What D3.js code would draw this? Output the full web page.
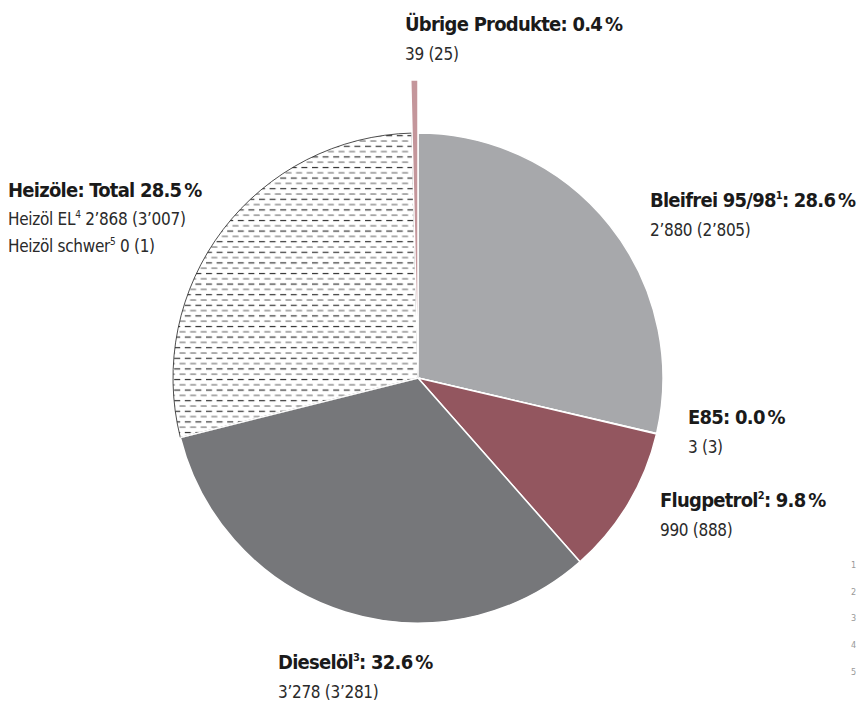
<!DOCTYPE html>
<html>
<head>
<meta charset="utf-8">
<script src="https://cdn.jsdelivr.net/npm/d3@7/dist/d3.min.js"></script>
<style>
  html, body { margin: 0; padding: 0; background: #fff; }
  svg { display: block; }
  text { font-family: "DejaVu Sans Condensed", "DejaVu Sans", sans-serif; font-stretch: condensed; }
  .title { font-weight: bold; font-size: 20px; fill: #1a1a1a; letter-spacing: -0.75px; }
  .val { font-size: 17px; fill: #2a2a2a; letter-spacing: -0.3px; }
  .note { font-size: 9px; fill: #999; }
</style>
</head>
<body>
<svg id="chart" width="858" height="704"></svg>
<script>
// Sales by product (thousand tonnes), current year and previous year in brackets
const categories = ["Bleifrei 95/98", "E85", "Flugpetrol", "Dieselöl", "Heizöle", "Übrige Produkte"];
const footnoteMarks = ["1", "", "2", "3", "", ""];
const values = [2880, 3, 990, 3278, 2868, 39];
const previous = [2805, 3, 888, 3281, 3007, 25];
// Heating oil breakdown
const heatingParts = ["Heizöl EL", "Heizöl schwer"];
const heatingMarks = ["4", "5"];
const heatingValues = [2868, 0];
const heatingPrevious = [3007, 1];
const footnoteNumbers = ["1", "2", "3", "4", "5"];

const colors = ["#a7a8ab", "#b9a0a3", "#93565f", "#76777a", "url(#dashes)", "#c4969b"];

const svg = d3.select("#chart");
const cx = 418, cy = 378, r = 245, rOut = 298;

// Dash pattern for the heating oil slice
const defs = svg.append("defs");
const pat = defs.append("pattern")
  .attr("id", "dashes")
  .attr("patternUnits", "userSpaceOnUse")
  .attr("width", 10.6).attr("height", 10.6);
pat.append("rect").attr("width", 10.6).attr("height", 10.6).attr("fill", "#fff");
pat.append("line").attr("x1", 0).attr("x2", 6).attr("y1", 1.5).attr("y2", 1.5)
  .attr("stroke", "#333").attr("stroke-width", 1.2);
pat.append("line").attr("x1", 5.3).attr("x2", 10.6).attr("y1", 6.8).attr("y2", 6.8)
  .attr("stroke", "#777").attr("stroke-width", 1.2);
pat.append("line").attr("x1", 0).attr("x2", 0.7).attr("y1", 6.8).attr("y2", 6.8)
  .attr("stroke", "#777").attr("stroke-width", 1.2);

const total = d3.sum(values);
const pie = d3.pie().sort(null).value(d => d.v).startAngle(0).endAngle(2 * Math.PI);
const data = categories.map((c, i) => ({ c, v: values[i], i }));
const arcs = pie(data);

const g = svg.append("g").attr("transform", `translate(${cx},${cy})`);
const arcFor = d => d3.arc().innerRadius(0).outerRadius(d.data.i === 5 ? rOut : r)(d);

g.selectAll("path.slice")
  .data(arcs)
  .join("path")
  .attr("class", "slice")
  .attr("d", arcFor)
  .attr("fill", d => colors[d.data.i])
  .attr("stroke", d => d.data.i === 4 ? "#222" : "#fff")
  .attr("stroke-width", d => d.data.i === 4 ? 0.8 : 1.5)
  .attr("stroke-linejoin", "round");

// white separator drawn over the heating-oil outline
g.selectAll("path.sep")
  .data(arcs.filter(d => d.data.i === 4))
  .join("path")
  .attr("d", d => {
    const a = d.startAngle;
    return `M0,0L${r * Math.sin(a)},${-r * Math.cos(a)}`;
  })
  .attr("stroke", "#fff").attr("stroke-width", 1.5);

const fmt = n => d3.format(",")(n).replace(/,/g, "\u2019");
const pct = v => (v / total * 100).toFixed(1);

// Labels: [index, x, title baseline]
const labelPos = [
  [0, 650, 207],
  [1, 688, 424],
  [2, 660, 507],
  [3, 278, 669],
  [5, 405, 31]
];

labelPos.forEach(([i, x, y]) => {
  const t = svg.append("text").attr("class", "title").attr("x", x).attr("y", y);
  t.append("tspan").text(categories[i]);
  if (footnoteMarks[i]) {
    t.append("tspan").attr("font-size", 11).attr("dy", -8).text(footnoteMarks[i]);
    t.append("tspan").attr("dy", 8).text(": " + pct(values[i]) + "\u2009%");
  } else {
    t.append("tspan").text(": " + pct(values[i]) + "\u2009%");
  }
  svg.append("text").attr("class", "val").attr("x", x).attr("y", y + 29)
    .text(`${fmt(values[i])} (${fmt(previous[i])})`);
});

// Heating oils block
svg.append("text").attr("class", "title").attr("x", 8).attr("y", 197)
  .text("Heizöle: Total " + pct(values[4]) + "\u2009%");
heatingParts.forEach((p, k) => {
  const t = svg.append("text").attr("class", "val").attr("x", 8).attr("y", 225 + k * 27);
  t.append("tspan").text(p);
  t.append("tspan").attr("font-size", 10).attr("dy", -7).text(heatingMarks[k]);
  t.append("tspan").attr("dy", 7).text(` ${fmt(heatingValues[k])} (${fmt(heatingPrevious[k])})`);
});

// Footnote numbers at the right margin
svg.selectAll("text.note")
  .data(footnoteNumbers)
  .join("text")
  .attr("class", "note")
  .attr("x", 851)
  .attr("y", (d, i) => 568 + i * 26.7)
  .text(d => d);
</script>
</body>
</html>
